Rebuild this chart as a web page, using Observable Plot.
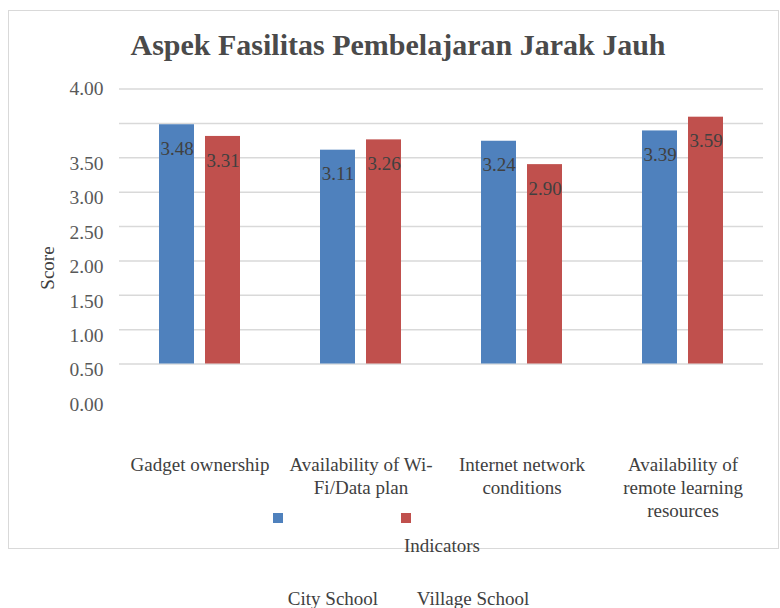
<!DOCTYPE html>
<html>
<head>
<meta charset="utf-8">
<script src="https://cdn.jsdelivr.net/npm/d3@7"></script>
<script src="https://cdn.jsdelivr.net/npm/@observablehq/plot@0.6"></script>
<style>
  body { margin: 0; background: #fff; }
  #wrap { position: relative; width: 780px; height: 608px; overflow: hidden;
          font-family: "Liberation Serif", "Times New Roman", serif; color: #404040; }
  #frame { position: absolute; left: 8px; top: 10px; width: 771px; height: 539px;
           border: 1.5px solid #d9d9d9; box-sizing: border-box; }
  #chart { position: absolute; left: 0; top: 0; }
  .t { position: absolute; white-space: nowrap; transform: translate(-50%, -50%); line-height: 1; }
  #title { left: 398px; top: 45px; font-weight: bold; font-size: 30px; color: #4a4a4a; }
  #score { left: 47px; top: 268px; font-size: 19px; transform: translate(-50%, -50%) rotate(-90deg); }
  #xlab { left: 442px; top: 545px; font-size: 19px; }
  .sw { position: absolute; width: 10px; height: 10px; top: 513px; }
  .lg { top: 598px; font-size: 19px; }
</style>
</head>
<body>
<div id="wrap">
  <div id="frame"></div>
  <div id="chart"></div>
  <div class="t" id="title"></div>
  <div class="t" id="score"></div>
  <div class="t" id="xlab"></div>
</div>
<script>
// ---- data ----
const indicators = [
  "Gadget ownership",
  "Availability of Wi-Fi/Data plan",
  "Internet network conditions",
  "Availability of remote learning resources"
];
const indicatorLabels = [
  "Gadget ownership",
  "Availability of Wi-\nFi/Data plan",
  "Internet network\nconditions",
  "Availability of\nremote learning\nresources"
];
const schools = ["City School", "Village School"];
const cityScores = [3.48, 3.11, 3.24, 3.39];
const villageScores = [3.31, 3.26, 2.90, 3.59];
const gridValues = [0, 0.5, 1, 1.5, 2, 2.5, 3, 3.5, 4];
const tickLabels = ["4.00", "3.50", "3.00", "2.50", "2.00", "1.50", "1.00", "0.50", "0.00"];
// values at which the tick labels appear in the picture
const tickLabelAt = [4, 3, 2.5, 2, 1.5, 1, 0.5, 0, -0.5];
const colors = ["#4f81bd", "#c0504d"];
const titleText = "Aspek Fasilitas Pembelajaran Jarak Jauh";
const yLabel = "Score";
const xLabel = "Indicators";

const data = indicators.flatMap((ind, i) => [
  {indicator: ind, school: schools[0], score: cityScores[i]},
  {indicator: ind, school: schools[1], score: villageScores[i]}
]);

const chart = Plot.plot({
  width: 780,
  height: 608,
  marginTop: 88,
  marginLeft: 117,
  marginRight: 16,
  marginBottom: 244,
  style: {fontFamily: "'Liberation Serif', 'Times New Roman', serif", fontSize: "19px", background: "transparent", overflow: "visible"},
  fx: {domain: indicators, padding: 0, axis: null},
  x: {domain: schools, paddingInner: 0.234, paddingOuter: 0.84, axis: null},
  y: {domain: [0, 4], range: [363.5, 88.5], axis: null},
  color: {domain: schools, range: colors},
  marks: [
    Plot.ruleY(gridValues, {stroke: "#d9d9d9", strokeWidth: 1.5}),
    Plot.barY(data, {fx: "indicator", x: "school", y: "score", fill: "school"}),
    Plot.text(data, {fx: "indicator", x: "school", y: "score", text: d => d.score.toFixed(2),
      dy: 24, fill: "#404040", fontSize: 19}),
    Plot.text(indicators, {fx: d => d, text: (d, i) => indicatorLabels[i], frameAnchor: "bottom",
      lineAnchor: "top", dy: 90, lineHeight: 1.21, fill: "#404040", fontSize: 19}),
    Plot.axisY(tickLabelAt.slice(0, 1), {tickSize: 0, tickPadding: 16, tickFormat: (d, i) => tickLabels[i],
      fill: "#595959", fontSize: 19.5, label: null}),
    Plot.axisY(tickLabelAt.slice(1), {tickSize: 0, tickPadding: 16, tickFormat: (d, i) => tickLabels[i + 1],
      fill: "#595959", fontSize: 19.5, dy: 6, label: null})
  ]
});
document.getElementById("chart").appendChild(chart);

document.getElementById("title").textContent = titleText;
document.getElementById("score").textContent = yLabel;
document.getElementById("xlab").textContent = xLabel;

// legend from the color scale
const cs = chart.scale("color");
const wrap = document.getElementById("wrap");
const swatchX = [273, 401];
const labelX = [333, 473];
cs.domain.forEach((s, i) => {
  const sw = document.createElement("div");
  sw.className = "sw";
  sw.style.left = swatchX[i] + "px";
  sw.style.background = cs.range[i];
  wrap.appendChild(sw);
  const lg = document.createElement("div");
  lg.className = "t lg";
  lg.style.left = labelX[i] + "px";
  lg.textContent = s;
  wrap.appendChild(lg);
});
</script>
</body>
</html>
